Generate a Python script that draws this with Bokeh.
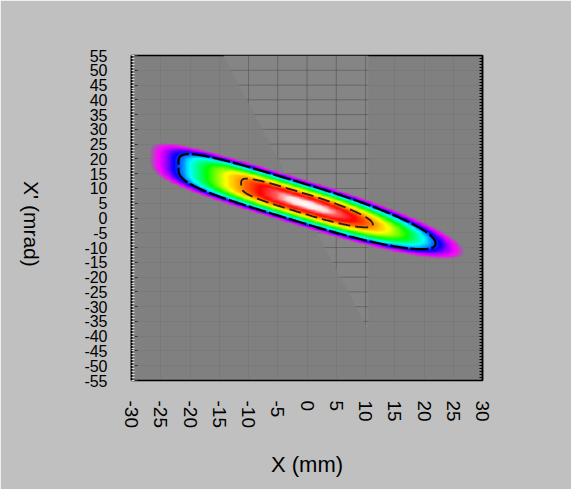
import numpy as np
from bokeh.plotting import figure
from bokeh.models import LinearColorMapper, LinearAxis, FixedTicker
from bokeh.embed import file_html
from bokeh.resources import INLINE

# ---- data ----
x_ticks = list(range(-30, 31, 5))
x_tick_labels = ["-30", "-25", "-20", "-15", "-10", "-5", "0", "5", "10", "15", "20", "25", "30"]
y_ticks = list(range(-55, 56, 5))
y_tick_labels = ["-55", "-50", "-45", "-40", "-35", "-30", "-25", "-20", "-15", "-10", "-5", "0",
                 "5", "10", "15", "20", "25", "30", "35", "40", "45", "50", "55"]
x_range = (-30, 30)
y_range = (-55, 55)
x_title = "X (mm)"
y_title = "X' (mrad)"

# phase-space beam ellipse (mm, mrad)
beam_center_x = 0.0
beam_center_xp = 4.6
beam_half_length = 26.8     # half extent in x at the outer edge
beam_slope = -0.6           # x' vs x correlation of the ridge
beam_half_height = 8.2      # vertical half width at the centre
beam_shape_left = 4.0       # blunt left end
beam_shape_right = 2.2      # pointed right end
contour_levels = [0.18, 0.58]

# lighter triangular region in the background
tri_x = [-14.3, 10.5, 10.5]
tri_y = [55, 55, -38]

# ---- density field ----
nx, ny = 400, 400
xs = np.linspace(x_range[0], x_range[1], nx)
ys = np.linspace(y_range[0], y_range[1], ny)
X, Y = np.meshgrid(xs, ys)
dx = X - beam_center_x
dy = Y - beam_center_xp - beam_slope * dx
u = np.abs(dx / beam_half_length)
v = np.abs(dy / beam_half_height)
pw = np.where(dx < 0, beam_shape_left, beam_shape_right)
q = (u ** pw + v ** pw) ** (1.0 / pw)
field = 1.0 - q
img = np.where(field < 0, np.nan, field)

# ---- palette ----
anchors = [
    (0.00, (150, 100, 160)),
    (0.05, (255, 0, 255)),
    (0.10, (150, 0, 255)),
    (0.15, (0, 0, 255)),
    (0.25, (0, 255, 255)),
    (0.36, (0, 255, 0)),
    (0.48, (255, 255, 0)),
    (0.58, (255, 140, 0)),
    (0.70, (255, 0, 0)),
    (0.80, (255, 90, 90)),
    (0.88, (255, 225, 225)),
    (1.00, (255, 255, 255)),
]
palette = []
for i in range(256):
    t = i / 255
    for (t0, c0), (t1, c1) in zip(anchors[:-1], anchors[1:]):
        if t0 <= t <= t1:
            w = (t - t0) / (t1 - t0)
            c = [int(round(a + (b - a) * w)) for a, b in zip(c0, c1)]
            palette.append("#%02x%02x%02x" % tuple(c))
            break
mapper = LinearColorMapper(palette=palette, low=0, high=1, nan_color="rgba(0,0,0,0)")

FONT = "Liberation Sans"

p = figure(width=571, height=489, x_range=x_range, y_range=y_range,
           output_backend="svg", toolbar_location=None,
           min_border_left=131, min_border_right=89,
           min_border_top=55, min_border_bottom=109)
p.background_fill_color = "#808080"
p.border_fill_color = "#c0c0c0"
p.outline_line_color = "black"
p.outline_line_width = 1.5

# background triangle
p.patch(tri_x, tri_y, fill_color="#858585", line_color=None, level="underlay")

# faint grid everywhere
p.xgrid.ticker = FixedTicker(ticks=x_ticks)
p.ygrid.ticker = FixedTicker(ticks=y_ticks)
p.grid.grid_line_color = "#5a5a5a"
p.grid.grid_line_alpha = 0.15
p.grid.grid_line_width = 1

# stronger grid inside the triangle
(tx0, ty0), (tx1, ty1), (tx2, ty2) = zip(tri_x, tri_y)
def left_edge_x(yv):
    return tx0 + (ty0 - yv) / (ty0 - ty2) * (tx2 - tx0)
def left_edge_y(xv):
    return ty0 - (xv - tx0) / (tx2 - tx0) * (ty0 - ty2)
sx0, sy0, sx1, sy1 = [], [], [], []
for t in x_ticks:
    if tx0 < t < tx1:
        sx0.append(t); sy0.append(left_edge_y(t)); sx1.append(t); sy1.append(ty0)
for t in y_ticks:
    if ty2 < t < ty0:
        sx0.append(left_edge_x(t)); sy0.append(t); sx1.append(tx1); sy1.append(t)
p.segment(sx0, sy0, sx1, sy1, line_color="#555555", line_alpha=0.55, line_width=1,
          level="underlay")

# image
p.image(image=[img], x=x_range[0], y=y_range[0], dw=x_range[1] - x_range[0],
        dh=y_range[1] - y_range[0], color_mapper=mapper)

# contours
p.contour(xs, ys, field, levels=[contour_levels[0]], line_color="black",
          line_width=2.2, line_dash="18 3")
p.contour(xs, ys, field, levels=[contour_levels[1]], line_color="#2a1a10",
          line_width=1.8, line_dash="12 5")

# x axis
xa = p.xaxis[0]
xa.ticker = FixedTicker(ticks=x_ticks)
xa.major_label_overrides = dict(zip(x_ticks, x_tick_labels))
xa.major_label_orientation = -np.pi / 2
xa.major_label_text_font = FONT
xa.major_label_text_font_size = "19px"
xa.major_label_text_color = "black"
xa.major_label_standoff = 20
xa.major_tick_in = 0
xa.major_tick_out = 0
xa.minor_tick_in = 0
xa.minor_tick_out = 0
xa.axis_line_color = "black"
xa.axis_label = x_title
xa.axis_label_text_font = FONT
xa.axis_label_text_font_size = "22px"
xa.axis_label_text_font_style = "normal"
xa.axis_label_text_color = "black"
xa.axis_label_standoff = 21

# y axis
ya = p.yaxis[0]
ya.ticker = FixedTicker(ticks=y_ticks, minor_ticks=list(range(-55, 56)))
ya.major_label_overrides = dict(zip(y_ticks, y_tick_labels))
ya.major_label_text_font = FONT
ya.major_label_text_font_size = "16px"
ya.major_label_text_color = "black"
ya.major_label_standoff = 24
ya.major_tick_in = 6
ya.major_tick_out = 0
ya.major_tick_line_color = "#303030"
ya.minor_tick_in = 3
ya.minor_tick_out = 0
ya.minor_tick_line_color = "#d8d8d8"
ya.axis_line_color = "black"
ya.axis_line_width = 1.5

# y-axis title, reading top to bottom: a label-only axis further left.
# A label rotated by -90 degrees on a left axis ends at its anchor, so the
# anchor sits at the lower end of the title.
title_anchor_y = -16.5
ta = LinearAxis(ticker=FixedTicker(ticks=[title_anchor_y], minor_ticks=[]))
ta.major_label_overrides = {title_anchor_y: y_title}
ta.major_label_orientation = -np.pi / 2
ta.major_label_text_font = FONT
ta.major_label_text_font_size = "21px"
ta.major_label_text_color = "black"
ta.major_label_standoff = 50
ta.major_tick_in = 0
ta.major_tick_out = 0
ta.axis_line_color = None
p.add_layout(ta, "left")

# right axis (minor ticks only, no labels)
ra = LinearAxis(ticker=FixedTicker(ticks=[], minor_ticks=list(range(-55, 56))))
ra.major_tick_in = 0
ra.major_tick_out = 0
ra.minor_tick_in = 3
ra.minor_tick_out = 0
ra.minor_tick_line_color = "black"
ra.axis_line_color = "black"
ra.axis_line_width = 1.5
p.add_layout(ra, "right")

open("out.html", "w").write(file_html(p, INLINE))
